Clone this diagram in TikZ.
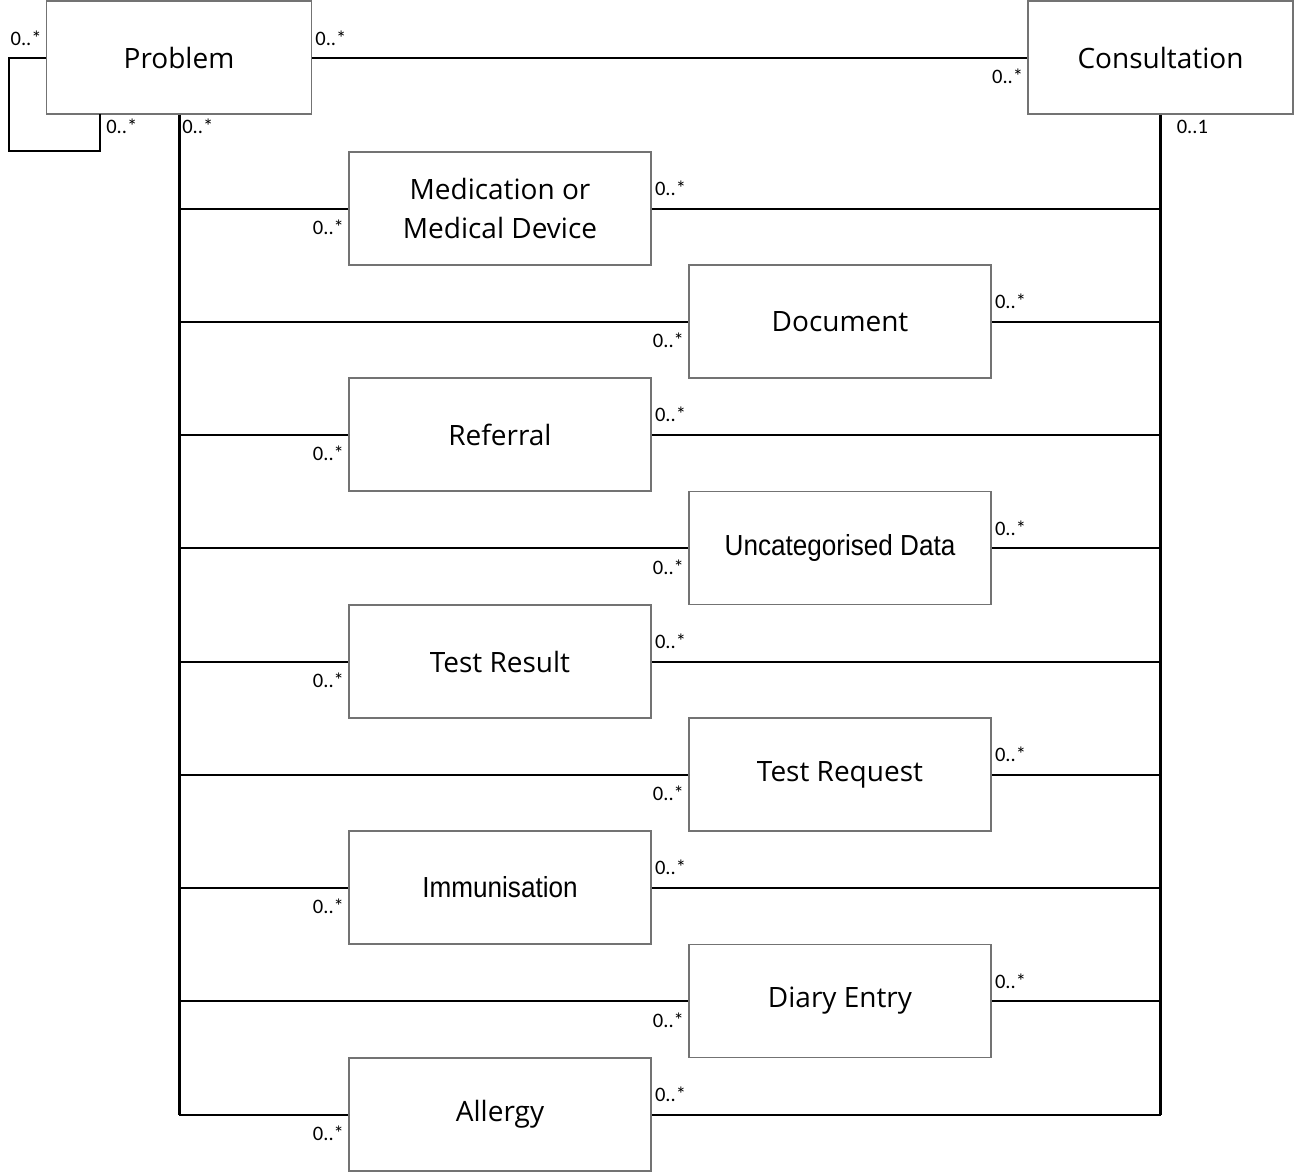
\documentclass[tikz,border=0pt]{standalone}
\usepackage{fontspec}
\newfontfamily\boxfont{Open Sans}
\newfontfamily\multfont{Carlito}
\newfontfamily\narrowfont[FakeStretch=0.9]{Liberation Sans}

\tikzset{
  umlclass/.style={draw=black!55, line width=1.2pt, fill=white,
    minimum width=226.5pt, minimum height=84.75pt, inner sep=0pt,
    align=center, font=\boxfont\fontsize{21}{29}\selectfont},
  bigclass/.style={umlclass, minimum width=198.5pt},
  mult/.style={inner sep=0pt, font=\multfont\fontsize{15.4}{18}\selectfont},
  assoc/.style={line width=1.5pt},
  bus/.style={line width=2.25pt},
}

\begin{document}
\begin{tikzpicture}[x=0.75pt, y=-0.75pt]
    \useasboundingbox (0,0) rectangle (1294,1172);

    % Top classes
    \node[bigclass] (prob) at (179,57.5) {Problem};
    \node[bigclass] (cons) at (1160.5,57.5) {Consultation};

    % Classes on the left column
    \node[umlclass] (med) at (500,208.5) {Medication or\\Medical Device};
    \node[umlclass] (ref) at (500,434.5) {Referral};
    \node[umlclass] (tres) at (500,661.5) {Test Result};
    \node[umlclass] (imm) at (500,887.5) {{\narrowfont\fontsize{21.75}{29}\selectfont Immunisation}};
    \node[umlclass] (all) at (500,1114.5) {Allergy};

    % Classes on the right column
    \node[umlclass] (doc) at (840,321.5) {Document};
    \node[umlclass] (unc) at (840,548) {{\narrowfont\fontsize{21.75}{29}\selectfont Uncategorised Data}};
    \node[umlclass] (treq) at (840,774.5) {Test Request};
    \node[umlclass] (dia) at (840,1001) {Diary Entry};

    % Problem -- Consultation and the self association
    \draw[assoc] (prob.east) -- (cons.west);
    \coordinate (loopL) at (9,151);
    \coordinate (loopR) at (100,114);
    \draw[assoc] (prob.west) -| (loopL) -| (loopR);

    % Bus lines down from Problem and Consultation
    \draw[bus] (prob.south) -- (prob.south |- all.west);
    \draw[bus] (cons.south) -- (cons.south |- all.east);

    % Branches to every class
    \foreach \c in {med,doc,ref,unc,tres,treq,imm,dia,all}{
      \draw[assoc] (prob.south |- \c.west) -- (\c.west);
      \draw[assoc] (\c.east) -- (cons.south |- \c.east);
    }

    % Multiplicities at the top
    \node[mult, anchor=base east] (mPl) at ([shift={(-4,-12)}]prob.west) {0..*};
    \node[mult, anchor=base west] (mPr) at ([shift={(3,-12)}]prob.east) {0..*};
    \node[mult, anchor=base east] (mCl) at ([shift={(-4,26)}]cons.west) {0..*};
    \node[mult, anchor=base west] (mLp) at ([shift={(6,19)}]loopR) {0..*};
    \node[mult, anchor=base west] (mPb) at ([shift={(3,19)}]prob.south) {0..*};
    \node[mult, anchor=base west] (mCb) at ([shift={(16,19)}]cons.south) {0..1};

    % Multiplicities at each class
    \foreach \c in {med,doc,ref,unc,tres,treq,imm,dia,all}{
      \node[mult, anchor=base east] (m\c w) at ([shift={(-4,26)}]\c.west) {0..*};
      \node[mult, anchor=base west] (m\c e) at ([shift={(3,-13)}]\c.east) {0..*};
    }
\end{tikzpicture}
\end{document}
